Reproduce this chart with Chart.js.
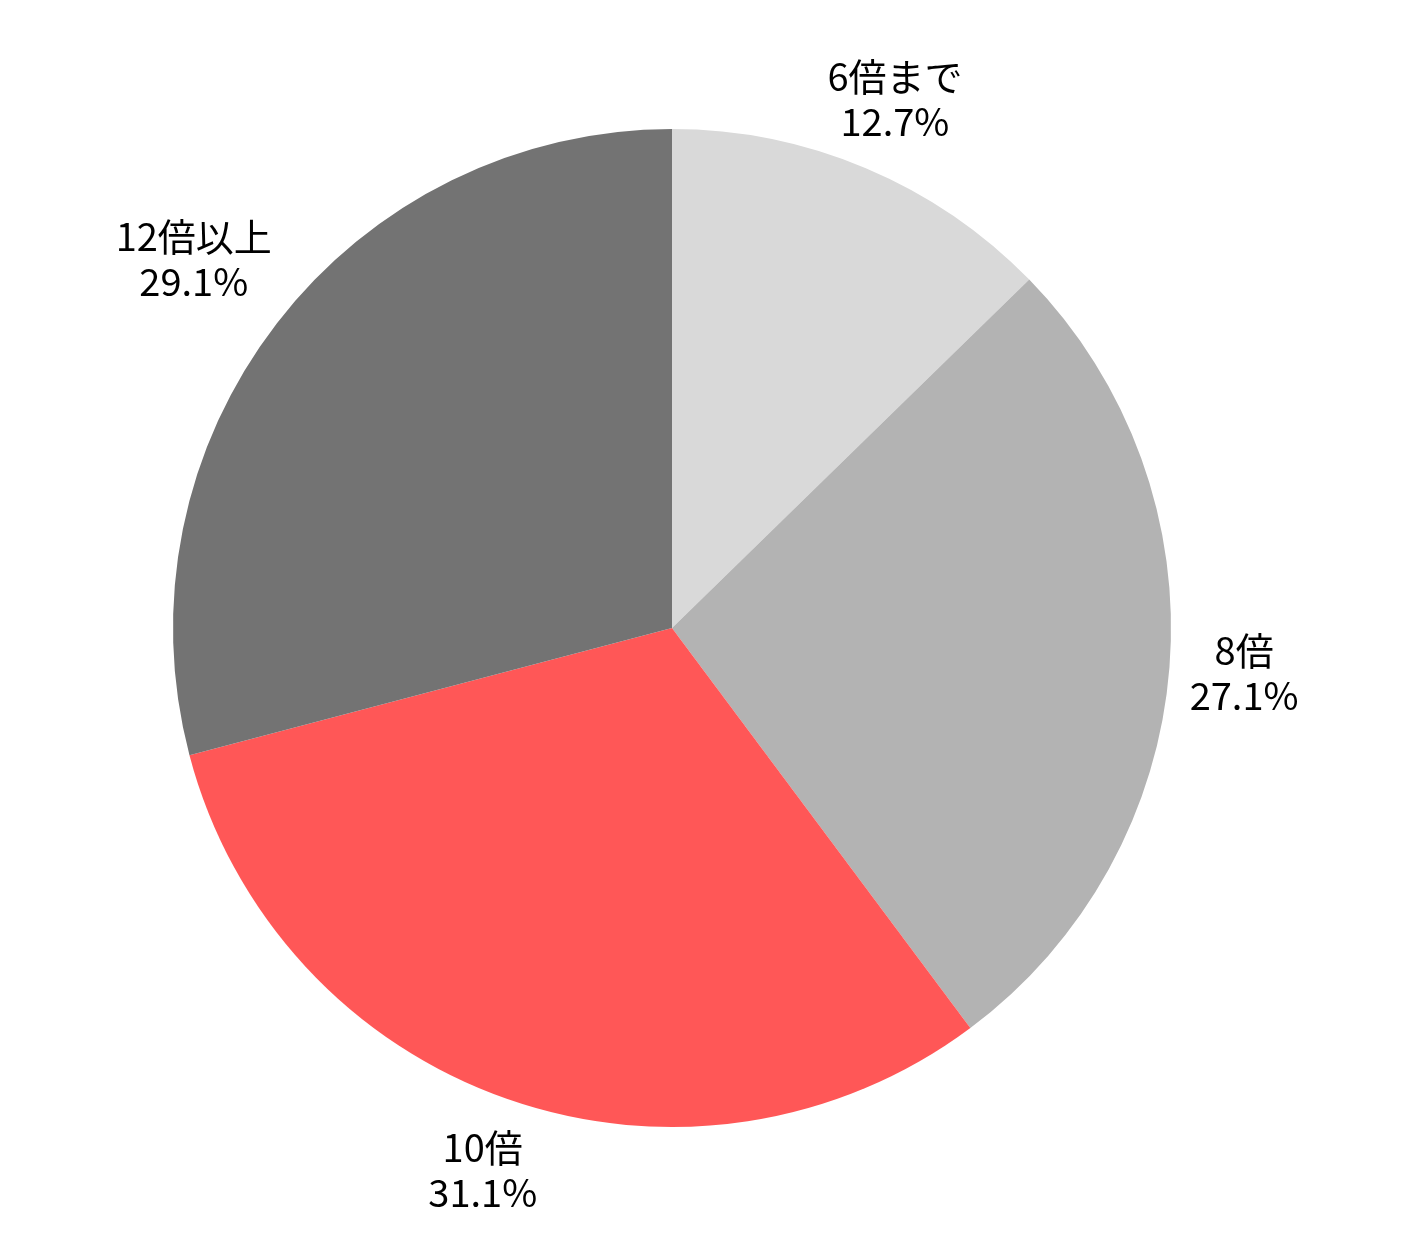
<!DOCTYPE html>
<html>
<head>
<meta charset="utf-8">
<script src="https://cdn.jsdelivr.net/npm/chart.js@4/dist/chart.umd.min.js"></script>
<style>
html,body{margin:0;padding:0;background:#fff;}
canvas{display:block;}
</style>
</head>
<body>
<canvas id="c" width="1414" height="1254"></canvas>
<script>
const categories = ['6倍まで', '8倍', '10倍', '12倍以上'];
const shares = [12.7, 27.1, 31.1, 29.1];
const colors = ['#d9d9d9', '#b3b3b3', '#ff5757', '#737373'];

const labelPlugin = {
  id: 'outerLabels',
  afterDatasetsDraw(chart, args, opts) {
    const ctx = chart.ctx;
    const meta = chart.getDatasetMeta(0);
    ctx.save();
    ctx.font = opts.font;
    ctx.fillStyle = opts.color;
    ctx.textAlign = 'center';
    ctx.textBaseline = 'middle';
    meta.data.forEach((arc, i) => {
      const p = arc.getProps(['x', 'y', 'startAngle', 'endAngle', 'outerRadius'], true);
      const mid = (p.startAngle + p.endAngle) / 2;
      const f = opts.distance[i];
      const cx = p.x + Math.cos(mid) * p.outerRadius * f;
      const cy = p.y + Math.sin(mid) * p.outerRadius * f;
      const lines = [chart.data.labels[i], shares[i].toFixed(1) + '%'];
      const lh = opts.lineHeight;
      lines.forEach((t, k) => {
        ctx.fillText(t, cx, cy + (k - (lines.length - 1) / 2) * lh);
      });
    });
    ctx.restore();
  }
};

new Chart(document.getElementById('c'), {
  type: 'pie',
  data: {
    labels: categories,
    datasets: [{
      data: shares,
      backgroundColor: colors,
      borderWidth: 0
    }]
  },
  options: {
    responsive: false,
    animation: false,
    layout: { padding: { left: 173, right: 243, top: 129, bottom: 127 } },
    plugins: {
      legend: { display: false },
      tooltip: { enabled: false },
      outerLabels: {
        font: '38px "Noto Sans CJK JP"',
        color: '#000000',
        lineHeight: 45,
        distance: [1.15, 1.15, 1.15, 1.21]
      }
    }
  },
  plugins: [labelPlugin]
});
</script>
</body>
</html>
